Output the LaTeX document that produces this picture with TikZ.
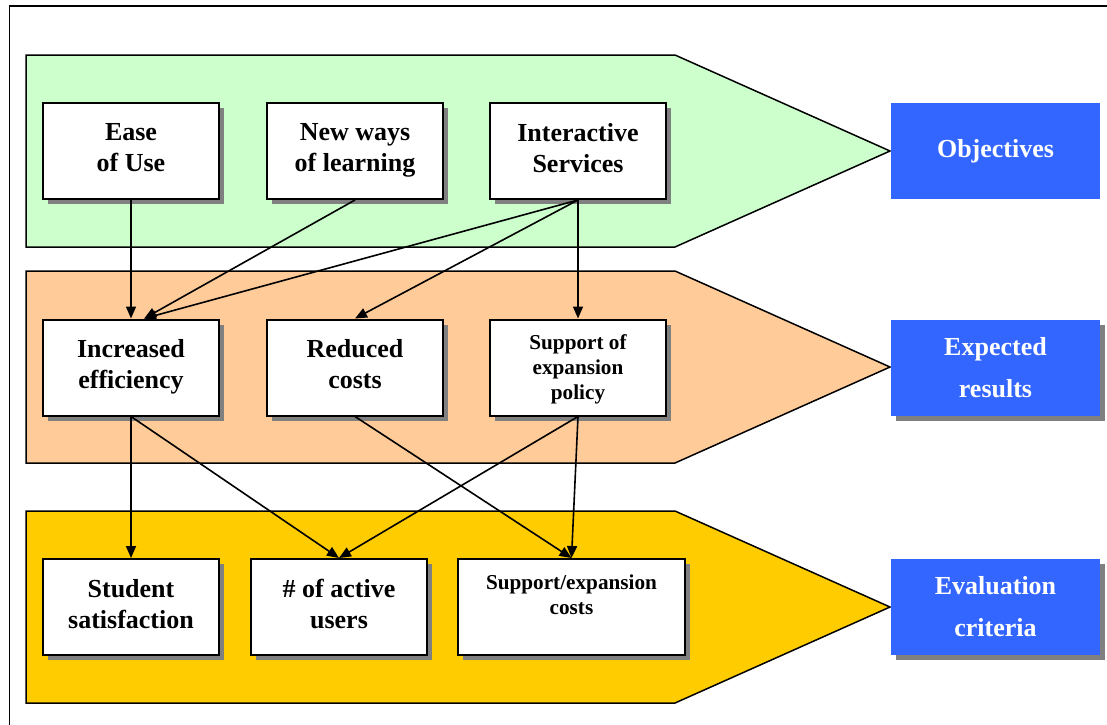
\documentclass[tikz,border=0pt]{standalone}
\usepackage{fontspec}
\setmainfont{Liberation Serif}
\usetikzlibrary{arrows.meta,shadows}
\definecolor{bandgreen}{HTML}{CCFFCC}
\definecolor{bandorange}{HTML}{FFCC99}
\definecolor{bandyellow}{HTML}{FFCC00}
\definecolor{tagblue}{HTML}{3366FF}
\tikzset{
  box/.style={draw=black, line width=1pt, fill=white, minimum width=88pt, minimum height=48pt,
    inner sep=0pt, text depth=3.5pt, align=center, font=\fontsize{13}{15.5}\selectfont\bfseries,
    drop shadow={shadow xshift=2.5pt, shadow yshift=-2.5pt, fill=black!50, opacity=1}},
  smallbox/.style={box, text depth=0pt, font=\fontsize{10.6}{12.5}\selectfont\bfseries},
  tag/.style={fill=tagblue, text=white, minimum width=104.5pt, minimum height=48pt, inner sep=0pt,
    align=center, font=\fontsize{13}{21}\selectfont\bfseries},
  tagshadow/.style={tag, drop shadow={shadow xshift=2.5pt, shadow yshift=-2.5pt, fill=black!50, opacity=1}},
  link/.style={line width=0.8pt, -{Triangle[length=6pt,width=5pt]}}
}
\begin{document}
\begin{tikzpicture}[x=0.5pt, y=-0.5pt]
\useasboundingbox (0,0) rectangle (1107,724);
\clip (0,0) rectangle (1107,724);
\draw[line width=0.75pt] (9.5,6) rectangle (1140,760);
% the three bands
\foreach \t/\col in {55/bandgreen, 271/bandorange, 511/bandyellow} {
    \draw[line width=0.75pt, fill=\col] (26,\t) -- (675,\t) -- (890,\t+96) -- (675,\t+192) -- (26,\t+192) -- cycle;
}
% objectives
\node[box] (ease) at (131,151) {Ease\\of Use};
\node[box] (newways) at (355,151) {New ways\\of learning};
\node[box] (interactive) at (578,151) {Interactive\\Services};
% expected results
\node[box] (efficiency) at (131,367.5) {Increased\\efficiency};
\node[box] (reduced) at (355,367.5) {Reduced\\costs};
\node[smallbox] (policy) at (578,367.5) {Support of\\expansion\\policy};
% evaluation criteria
\node[box] (student) at (131,607) {Student\\satisfaction};
\node[box] (active) at (339,607) {\# of active\\users};
\node[smallbox, minimum width=113.5pt] (costs) at (571.5,607) {Support/expansion\\costs\\~};
% labels on the right
\node[tag] (objectives) at (995.5,151) {Objectives};
\node[tagshadow] (expected) at (995.5,367.5) {Expected\\results};
\node[tagshadow] (criteria) at (995.5,607) {Evaluation\\criteria};
% links
\draw[link] (ease.south) -- (efficiency.north);
\draw[link] (newways.south) -- (efficiency.75);
\draw[link] (interactive.south) -- (efficiency.75);
\draw[link] (interactive.south) -- (reduced.north);
\draw[link] (interactive.south) -- (policy.north);
\draw[link] (efficiency.south) -- (student.north);
\draw[link] (efficiency.south) -- (active.north);
\draw[link] (policy.south) -- (active.north);
\draw[link] (reduced.south) -- (costs.north);
\draw[link] (policy.south) -- (costs.north);
\end{tikzpicture}
\end{document}
